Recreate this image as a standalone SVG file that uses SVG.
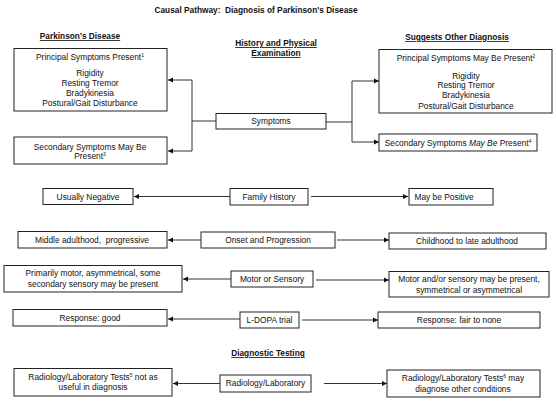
<svg xmlns="http://www.w3.org/2000/svg" width="556" height="408" viewBox="0 0 556 408">
<defs>
<marker id="ah" markerWidth="6" markerHeight="6" refX="5" refY="3" orient="auto" markerUnits="userSpaceOnUse">
<path d="M0,0.5 L5,3 L0,5.5 Z" fill="#111"/>
</marker>
<style>
.b{fill:#fff;stroke:#222;stroke-width:1}
.t{font-family:"Liberation Sans",Arial,sans-serif;font-size:8.4px;fill:#111;text-anchor:middle}
.h{font-family:"Liberation Sans",Arial,sans-serif;font-size:8.3px;font-weight:bold;fill:#111;text-anchor:middle;text-decoration:underline}
.c{fill:none;stroke:#333;stroke-width:1}
.a{fill:none;stroke:#333;stroke-width:1;marker-end:url(#ah)}
</style>
</defs>
<rect width="556" height="408" fill="#fff"/>
<text class="h" x="256" y="13" style="text-decoration:none">Causal Pathway:&#160; Diagnosis of Parkinson's Disease</text>
<text class="h" x="80" y="39">Parkinson's Disease</text>
<text class="h" x="276" y="46">History and Physical</text>
<text class="h" x="276" y="56">Examination</text>
<text class="h" x="457" y="40">Suggests Other Diagnosis</text>
<text class="h" x="268" y="356">Diagnostic Testing</text>

<g id="connectors">
<path class="c" d="M216,121 H192 M192,80 V151"/>
<path class="a" d="M192,80 H168"/>
<path class="a" d="M192,151 H168"/>
<path class="c" d="M326,122 H352 M352,81 V142"/>
<path class="a" d="M352,81 H379"/>
<path class="a" d="M352,142 H379"/>
<path class="a" d="M230,196.5 H134"/>
<path class="a" d="M311,196.5 H408"/>
<path class="a" d="M201,240 H168"/>
<path class="a" d="M337,240 H389"/>
<path class="a" d="M231,279 H183"/>
<path class="a" d="M316,280 H389"/>
<path class="a" d="M240,319 H168"/>
<path class="a" d="M302,320 H378"/>
<path class="a" d="M220,383.5 H173"/>
<path class="a" d="M324,383.5 H387"/>
</g>

<g id="pd-principal">
<rect class="b" x="14" y="48.5" width="153" height="62.5"/>
<text class="t" x="90" y="60">Principal Symptoms Present<tspan font-size="5" dy="-3">1</tspan></text>
<text class="t" x="90" y="76">Rigidity</text>
<text class="t" x="90" y="86">Resting Tremor</text>
<text class="t" x="90" y="96">Bradykinesia</text>
<text class="t" x="90" y="106">Postural/Gait Disturbance</text>
</g>
<g id="pd-secondary">
<rect class="b" x="14" y="137" width="153" height="27"/>
<text class="t" x="90" y="150">Secondary Symptoms May Be</text>
<text class="t" x="90" y="159">Present<tspan font-size="5" dy="-3">3</tspan></text>
</g>
<g id="symptoms">
<rect class="b" x="216" y="113.5" width="110" height="15.5"/>
<text class="t" x="271" y="124">Symptoms</text>
</g>
<g id="od-principal">
<rect class="b" x="379" y="49.5" width="173" height="63.5"/>
<text class="t" x="466" y="61">Principal Symptoms May Be Present<tspan font-size="5" dy="-3">2</tspan></text>
<text class="t" x="466" y="79">Rigidity</text>
<text class="t" x="466" y="88">Resting Tremor</text>
<text class="t" x="466" y="98">Bradykinesia</text>
<text class="t" x="466" y="109">Postural/Gait Disturbance</text>
</g>
<g id="od-secondary">
<rect class="b" x="379" y="134" width="158" height="17"/>
<text class="t" x="458" y="145.5">Secondary Symptoms <tspan font-style="italic">May Be</tspan> Present<tspan font-size="5" dy="-3">4</tspan></text>
</g>

<g id="usually-negative">
<rect class="b" x="43" y="188.5" width="90" height="16"/>
<text class="t" x="88" y="199.5">Usually Negative</text>
</g>
<g id="family-history">
<rect class="b" x="230" y="188.5" width="78" height="16.5"/>
<text class="t" x="269" y="200">Family History</text>
</g>
<g id="may-be-positive">
<rect class="b" x="409" y="188.5" width="84" height="16.5"/>
<text class="t" x="444" y="199.5">May be Positive</text>
</g>

<g id="middle-adulthood">
<rect class="b" x="18" y="231.5" width="149" height="16.5"/>
<text class="t" x="92" y="243">Middle adulthood,&#160; progressive</text>
</g>
<g id="onset">
<rect class="b" x="201" y="232" width="134" height="16"/>
<text class="t" x="268" y="243">Onset and Progression</text>
</g>
<g id="childhood">
<rect class="b" x="389" y="233" width="157" height="16"/>
<text class="t" x="467" y="244">Childhood to late adulthood</text>
</g>

<g id="primarily-motor">
<rect class="b" x="4" y="265.5" width="178" height="26.5"/>
<text class="t" x="93" y="276">Primarily motor, asymmetrical, some</text>
<text class="t" x="93" y="287">secondary sensory may be present</text>
</g>
<g id="motor-sensory">
<rect class="b" x="231" y="271" width="82" height="16"/>
<text class="t" x="272" y="282">Motor or Sensory</text>
</g>
<g id="motor-and-or">
<rect class="b" x="389" y="271.5" width="160" height="25.5"/>
<text class="t" x="469" y="282">Motor and/or sensory may be present,</text>
<text class="t" x="469" y="293">symmetrical or asymmetrical</text>
</g>

<g id="response-good">
<rect class="b" x="13" y="309.5" width="154" height="16.5"/>
<text class="t" x="90" y="320.5">Response: good</text>
</g>
<g id="ldopa">
<rect class="b" x="240" y="312" width="59" height="16"/>
<text class="t" x="269.5" y="323">L-DOPA trial</text>
</g>
<g id="response-fair">
<rect class="b" x="378" y="312" width="162" height="16"/>
<text class="t" x="459" y="323">Response: fair to none</text>
</g>

<g id="radiology-left">
<rect class="b" x="14" y="368.5" width="158" height="27.5"/>
<text class="t" x="93" y="380">Radiology/Laboratory Tests<tspan font-size="5" dy="-3">5</tspan><tspan dy="3"> not as</tspan></text>
<text class="t" x="93" y="390">useful in diagnosis</text>
</g>
<g id="radiology">
<rect class="b" x="220" y="375" width="91" height="17"/>
<text class="t" x="265.5" y="386">Radiology/Laboratory</text>
</g>
<g id="radiology-right">
<rect class="b" x="387" y="370" width="153" height="27"/>
<text class="t" x="463" y="381">Radiology/Laboratory Tests<tspan font-size="5" dy="-3">6</tspan><tspan dy="3"> may</tspan></text>
<text class="t" x="463" y="392">diagnose other conditions</text>
</g>
</svg>
